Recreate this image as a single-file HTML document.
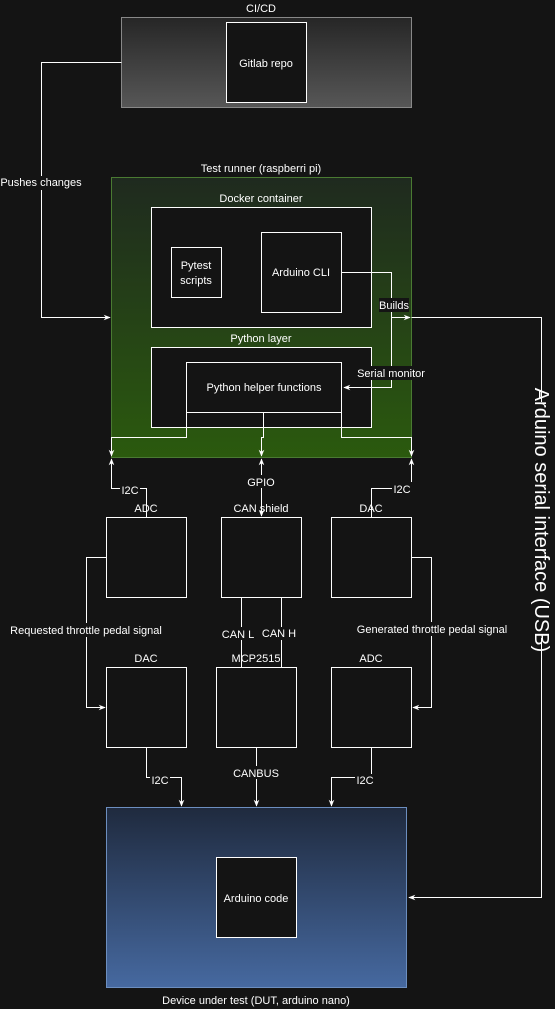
<!DOCTYPE html>
<html><head><style>html,body{margin:0;padding:0;background:#141414;}svg{display:block}</style></head>
<body>
<svg width="555" height="1009" viewBox="0 0 555 1009" xmlns="http://www.w3.org/2000/svg" font-family="Liberation Sans, Arial, sans-serif" font-size="11">
<defs>
<linearGradient id="g1" x1="0" y1="0" x2="0" y2="1"><stop offset="0" stop-color="#262626"/><stop offset="1" stop-color="#575757"/></linearGradient>
<linearGradient id="g2" x1="0" y1="0" x2="0" y2="1"><stop offset="0" stop-color="#1f2a1f"/><stop offset="1" stop-color="#2b5a0e"/></linearGradient>
<linearGradient id="g3" x1="0" y1="0" x2="0" y2="1"><stop offset="0" stop-color="#1f2a3e"/><stop offset="1" stop-color="#4669a0"/></linearGradient>
<marker id="a" viewBox="0 0 10 10" refX="9" refY="5" markerWidth="7" markerHeight="7" orient="auto-start-reverse"><path d="M0,1 L10,5 L0,9 L3,5 z" fill="#fff"/></marker>
</defs>
<rect width="555" height="1009" fill="#141414"/>
<g fill="#fff" text-anchor="middle">
<text x="261" y="12">CI/CD</text>
<text x="261" y="172">Test runner (raspberri pi)</text>
<text x="256" y="1004">Device under test (DUT, arduino nano)</text>
</g>
<rect x="121.5" y="17.5" width="290" height="90" fill="url(#g1)" stroke="#888"/>
<rect x="226.5" y="22.5" width="80" height="80" fill="#141414" stroke="#fff"/>
<rect x="111.5" y="177.5" width="300" height="280" fill="url(#g2)" stroke="#4a7a32"/>
<rect x="151.5" y="207.5" width="220" height="120" fill="#141414" stroke="#fff"/>
<rect x="171.5" y="247.5" width="50" height="50" fill="#141414" stroke="#fff"/>
<rect x="261.5" y="232.5" width="80" height="80" fill="#141414" stroke="#fff"/>
<rect x="151.5" y="347.5" width="220" height="80" fill="#141414" stroke="#fff"/>
<rect x="186.5" y="362.5" width="155" height="50" fill="#141414" stroke="#fff"/>
<rect x="106.5" y="807.5" width="300" height="180" fill="url(#g3)" stroke="#6c8ebf"/>
<rect x="216.5" y="857.5" width="80" height="80" fill="#141414" stroke="#fff"/>
<g fill="none" stroke="#fff">
<rect x="106.5" y="517.5" width="80" height="80"/>
<rect x="221.5" y="517.5" width="80" height="80"/>
<rect x="331.5" y="517.5" width="80" height="80"/>
<rect x="106.5" y="667.5" width="80" height="80"/>
<rect x="216.5" y="667.5" width="80" height="80"/>
<rect x="331.5" y="667.5" width="80" height="80"/>
</g>
<g fill="none" stroke="#fff" stroke-width="1">
<path d="M121.5,62.5 H41.5 V317.5 H110" marker-end="url(#a)"/>
<path d="M341.5,272.5 H391.5 V387.5 H344" marker-end="url(#a)"/>
<path d="M391.5,317.5 H410" marker-end="url(#a)"/>
<path d="M411.5,317.5 H541.5 V897.5 H409" marker-end="url(#a)"/>
<path d="M186.5,412.5 V437.5 H111.5 V456" marker-end="url(#a)"/>
<path d="M263.5,412.5 V437.5 H261.5 V456" marker-end="url(#a)"/>
<path d="M341.5,412.5 V437.5 H411.5 V456" marker-end="url(#a)"/>
<path d="M146.5,517.5 V488.5 H111.5 V459" marker-end="url(#a)"/>
<path d="M371.5,517.5 V488.5 H411.5 V459" marker-end="url(#a)"/>
<path d="M261.5,459 V516" marker-start="url(#a)" marker-end="url(#a)"/>
<path d="M106.5,557.5 H86.5 V707.5 H105" marker-end="url(#a)"/>
<path d="M411.5,557.5 H431.5 V707.5 H413" marker-end="url(#a)"/>
<path d="M241.5,597.5 V667.5"/>
<path d="M281.5,597.5 V667.5"/>
<path d="M146.5,747.5 V777.5 H181.5 V806" marker-end="url(#a)"/>
<path d="M256.5,747.5 V806" marker-end="url(#a)"/>
<path d="M371.5,747.5 V777.5 H331.5 V806" marker-end="url(#a)"/>
</g>
<g fill="#141414">
<rect x="0" y="176" width="82" height="14"/>
<rect x="379" y="298" width="30" height="14"/>
<rect x="356" y="366" width="70" height="14"/>
<rect x="120" y="483" width="20" height="12"/>
<rect x="246" y="475" width="30" height="13"/>
<rect x="392" y="482" width="20" height="12"/>
<rect x="8" y="623" width="156" height="14"/>
<rect x="355" y="622" width="154" height="14"/>
<rect x="219" y="627" width="38" height="13"/>
<rect x="259" y="627" width="38" height="13"/>
<rect x="150" y="774" width="20" height="12"/>
<rect x="232" y="766" width="50" height="13"/>
<rect x="355" y="774" width="20" height="12"/>
<rect x="530" y="402" width="24" height="236"/>
</g>
<g fill="#fff" text-anchor="middle">
<text x="266" y="67">Gitlab repo</text>
<text x="261" y="202">Docker container</text>
<text x="196" y="269">Pytest</text>
<text x="196" y="284">scripts</text>
<text x="301" y="276">Arduino CLI</text>
<text x="261" y="342">Python layer</text>
<text x="264" y="391">Python helper functions</text>
<text x="41" y="186">Pushes changes</text>
<text x="394" y="309">Builds</text>
<text x="391" y="377">Serial monitor</text>
<text x="130" y="494">I2C</text>
<text x="261" y="486">GPIO</text>
<text x="402" y="493">I2C</text>
<text x="146" y="512">ADC</text>
<text x="261" y="512">CAN shield</text>
<text x="371" y="512">DAC</text>
<text x="86" y="634">Requested throttle pedal signal</text>
<text x="432" y="633">Generated throttle pedal signal</text>
<text x="238" y="638">CAN L</text>
<text x="279" y="637">CAN H</text>
<text x="146" y="662">DAC</text>
<text x="256" y="662">MCP2515</text>
<text x="371" y="662">ADC</text>
<text x="160" y="784">I2C</text>
<text x="256" y="777">CANBUS</text>
<text x="365" y="784">I2C</text>
<text x="256" y="902">Arduino code</text>
<text transform="translate(535,520) rotate(90)" font-size="20" text-anchor="middle">Arduino serial interface (USB)</text>
</g>
</svg>
</body></html>
